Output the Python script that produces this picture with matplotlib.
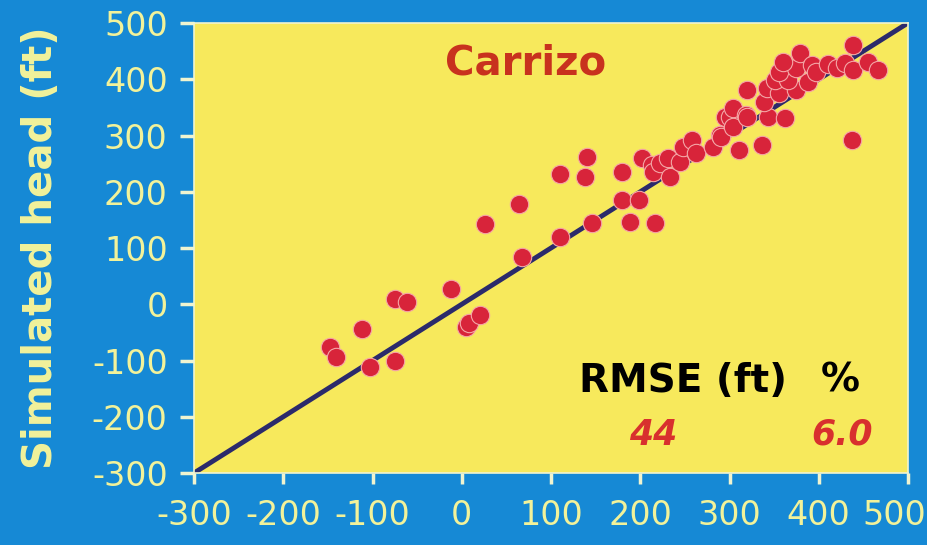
import numpy as np
import matplotlib.pyplot as plt
import matplotlib.transforms as mtransforms

observed = [-148, -141, -112, -103, -75, -75, -61, -12, 5, 8, 20,
            26, 64, 67, 110, 110, 138, 140, 146, 179, 179, 188, 199, 216,
            202, 213, 214, 222, 231, 233, 244, 248, 258, 263, 281, 289, 291,
            311, 336,
            295, 300, 304, 304, 319, 320, 343, 362, 339, 320, 342, 356, 375,
            388, 351, 365, 356, 375, 360, 379, 392, 397, 410, 420, 429, 438,
            438, 455, 466, 437]
simulated = [-76, -94, -44, -112, -101, 9, 4, 27, -40, -33, -19,
             143, 178, 84, 231, 120, 226, 262, 144, 235, 185, 146, 185, 144,
             260, 248, 235, 251, 260, 226, 253, 280, 292, 269, 280, 301, 297,
             274, 283,
             333, 333, 349, 315, 337, 333, 333, 331, 360, 381, 384, 376, 381,
             395, 399, 399, 413, 420, 431, 447, 425, 413, 427, 420, 429, 416,
             461, 431, 416, 292]

ticks = [-300, -200, -100, 0, 100, 200, 300, 400, 500]
one_to_one = [-300, 500]

blue = '#1689d5'
yellow = '#f7e95c'
pale = '#f2f29a'

fig = plt.figure(figsize=(9.27, 5.45), dpi=100, facecolor=blue)
ax = fig.add_axes([0.2093, 0.1321, 0.7702, 0.8257], facecolor=yellow)

ax.plot(one_to_one, one_to_one, color='#2b2a6b', linewidth=3.5, zorder=2)
ax.scatter(observed, simulated, s=175, color='#d8243a', edgecolors='#f4a6a6',
           linewidths=0.8, zorder=3)

ax.set_xlim(-300, 500)
ax.set_ylim(-300, 500)
ax.set_xticks(ticks)
ax.set_yticks(ticks)
ax.set_xticklabels([str(t) for t in ticks])
ax.set_yticklabels([str(t) for t in ticks])
ax.tick_params(axis='x', colors='#f0f4d0', length=8, width=2.5, pad=11,
               labelsize=24, labelcolor=pale)
ax.tick_params(axis='y', colors='#f0f4d0', length=10, width=2.5, pad=9,
               labelsize=24, labelcolor=pale)
for sp in ax.spines.values():
    sp.set_color('#f0f4d0')
    sp.set_linewidth(1.2)

# last x label sits a little left of its tick so it stays inside the picture
last = ax.get_xticklabels()[-1]
last.set_transform(last.get_transform() +
                   mtransforms.ScaledTranslation(-0.14, 0, fig.dpi_scale_trans))

ax.set_ylabel('Simulated head (ft)', fontsize=29, fontweight='bold',
              color=pale, labelpad=22)

ax.text(0.465, 0.955, 'Carrizo', transform=ax.transAxes, fontsize=29,
        fontweight='bold', color='#c8321e', ha='center', va='top')
ax.text(0.685, 0.205, 'RMSE (ft)', transform=ax.transAxes, fontsize=28,
        fontweight='bold', color='black', ha='center', va='center')
ax.text(0.905, 0.205, '%', transform=ax.transAxes, fontsize=28,
        fontweight='bold', color='black', ha='center', va='center')
ax.text(0.643, 0.085, '44', transform=ax.transAxes, fontsize=25,
        fontweight='bold', fontstyle='italic', color='#d8302e',
        ha='center', va='center')
ax.text(0.908, 0.085, '6.0', transform=ax.transAxes, fontsize=25,
        fontweight='bold', fontstyle='italic', color='#d8302e',
        ha='center', va='center')

fig.savefig('out.png', dpi=100, facecolor=blue)
